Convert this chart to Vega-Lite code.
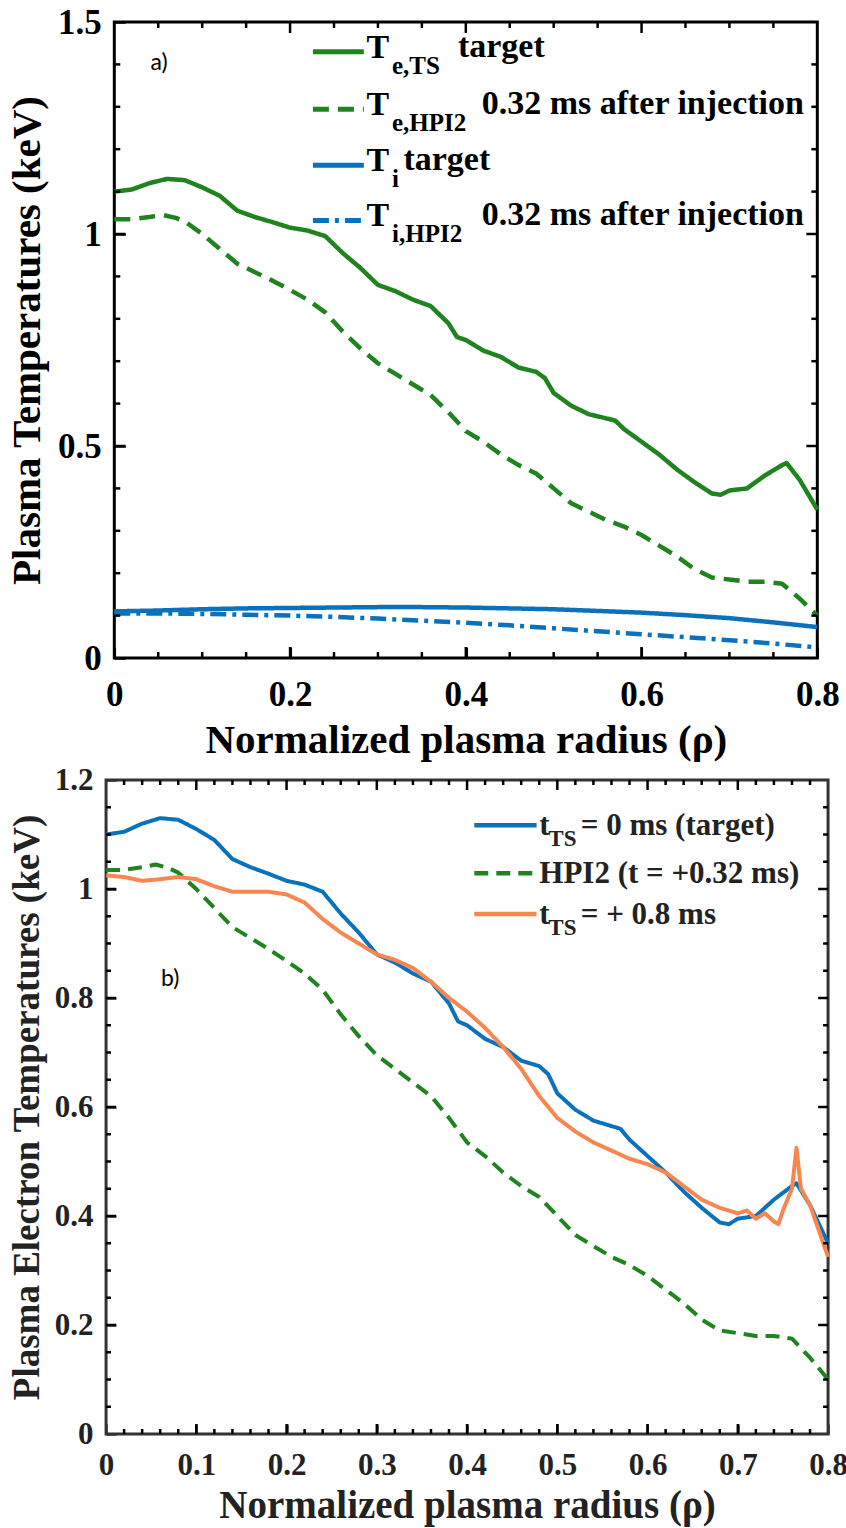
{
  "$schema": "https://vega.github.io/schema/vega-lite/v6.json",
  "background": "white",
  "padding": {"left": 5, "top": 3, "right": 2, "bottom": 0},
  "columns": 1,
  "center": true,
  "spacing": 0,
  "resolve": {"scale": {"color": "independent", "strokeDash": "independent"}},
  "datasets": {
    "A": [
      {"series": "Te target", "rho": 0, "T": 1.1}, {"series": "Te target", "rho": 0.02, "T": 1.105}, {"series": "Te target", "rho": 0.04, "T": 1.12}, {"series": "Te target", "rho": 0.06, "T": 1.13}, {"series": "Te target", "rho": 0.08, "T": 1.127}, {"series": "Te target", "rho": 0.1, "T": 1.11}, {"series": "Te target", "rho": 0.12, "T": 1.09}, {"series": "Te target", "rho": 0.14, "T": 1.055}, {"series": "Te target", "rho": 0.16, "T": 1.04}, {"series": "Te target", "rho": 0.18, "T": 1.028}, {"series": "Te target", "rho": 0.2, "T": 1.015}, {"series": "Te target", "rho": 0.22, "T": 1.008}, {"series": "Te target", "rho": 0.24, "T": 0.995}, {"series": "Te target", "rho": 0.26, "T": 0.955}, {"series": "Te target", "rho": 0.28, "T": 0.92}, {"series": "Te target", "rho": 0.3, "T": 0.88}, {"series": "Te target", "rho": 0.32, "T": 0.865}, {"series": "Te target", "rho": 0.34, "T": 0.845}, {"series": "Te target", "rho": 0.36, "T": 0.83}, {"series": "Te target", "rho": 0.38, "T": 0.79}, {"series": "Te target", "rho": 0.39, "T": 0.757}, {"series": "Te target", "rho": 0.4, "T": 0.75}, {"series": "Te target", "rho": 0.42, "T": 0.725}, {"series": "Te target", "rho": 0.44, "T": 0.71}, {"series": "Te target", "rho": 0.46, "T": 0.685}, {"series": "Te target", "rho": 0.48, "T": 0.675}, {"series": "Te target", "rho": 0.49, "T": 0.66}, {"series": "Te target", "rho": 0.5, "T": 0.625}, {"series": "Te target", "rho": 0.52, "T": 0.595}, {"series": "Te target", "rho": 0.54, "T": 0.575}, {"series": "Te target", "rho": 0.56, "T": 0.565}, {"series": "Te target", "rho": 0.57, "T": 0.56}, {"series": "Te target", "rho": 0.58, "T": 0.54}, {"series": "Te target", "rho": 0.6, "T": 0.51}, {"series": "Te target", "rho": 0.62, "T": 0.48}, {"series": "Te target", "rho": 0.64, "T": 0.445}, {"series": "Te target", "rho": 0.66, "T": 0.415}, {"series": "Te target", "rho": 0.68, "T": 0.388}, {"series": "Te target", "rho": 0.69, "T": 0.385}, {"series": "Te target", "rho": 0.7, "T": 0.395}, {"series": "Te target", "rho": 0.72, "T": 0.4}, {"series": "Te target", "rho": 0.74, "T": 0.43}, {"series": "Te target", "rho": 0.76, "T": 0.455}, {"series": "Te target", "rho": 0.765, "T": 0.46}, {"series": "Te target", "rho": 0.78, "T": 0.42}, {"series": "Te target", "rho": 0.8, "T": 0.35},
      {"series": "Te HPI2", "rho": 0, "T": 1.035}, {"series": "Te HPI2", "rho": 0.02, "T": 1.035}, {"series": "Te HPI2", "rho": 0.04, "T": 1.04}, {"series": "Te HPI2", "rho": 0.055, "T": 1.045}, {"series": "Te HPI2", "rho": 0.07, "T": 1.038}, {"series": "Te HPI2", "rho": 0.08, "T": 1.03}, {"series": "Te HPI2", "rho": 0.1, "T": 1.0}, {"series": "Te HPI2", "rho": 0.12, "T": 0.965}, {"series": "Te HPI2", "rho": 0.14, "T": 0.93}, {"series": "Te HPI2", "rho": 0.16, "T": 0.91}, {"series": "Te HPI2", "rho": 0.18, "T": 0.89}, {"series": "Te HPI2", "rho": 0.2, "T": 0.868}, {"series": "Te HPI2", "rho": 0.22, "T": 0.845}, {"series": "Te HPI2", "rho": 0.24, "T": 0.815}, {"series": "Te HPI2", "rho": 0.26, "T": 0.77}, {"series": "Te HPI2", "rho": 0.28, "T": 0.73}, {"series": "Te HPI2", "rho": 0.3, "T": 0.695}, {"series": "Te HPI2", "rho": 0.32, "T": 0.67}, {"series": "Te HPI2", "rho": 0.34, "T": 0.645}, {"series": "Te HPI2", "rho": 0.36, "T": 0.62}, {"series": "Te HPI2", "rho": 0.38, "T": 0.58}, {"series": "Te HPI2", "rho": 0.4, "T": 0.535}, {"series": "Te HPI2", "rho": 0.42, "T": 0.51}, {"series": "Te HPI2", "rho": 0.44, "T": 0.48}, {"series": "Te HPI2", "rho": 0.46, "T": 0.455}, {"series": "Te HPI2", "rho": 0.48, "T": 0.435}, {"series": "Te HPI2", "rho": 0.5, "T": 0.4}, {"series": "Te HPI2", "rho": 0.52, "T": 0.365}, {"series": "Te HPI2", "rho": 0.54, "T": 0.345}, {"series": "Te HPI2", "rho": 0.56, "T": 0.325}, {"series": "Te HPI2", "rho": 0.58, "T": 0.31}, {"series": "Te HPI2", "rho": 0.6, "T": 0.29}, {"series": "Te HPI2", "rho": 0.62, "T": 0.265}, {"series": "Te HPI2", "rho": 0.64, "T": 0.24}, {"series": "Te HPI2", "rho": 0.66, "T": 0.21}, {"series": "Te HPI2", "rho": 0.68, "T": 0.19}, {"series": "Te HPI2", "rho": 0.7, "T": 0.185}, {"series": "Te HPI2", "rho": 0.72, "T": 0.18}, {"series": "Te HPI2", "rho": 0.74, "T": 0.18}, {"series": "Te HPI2", "rho": 0.76, "T": 0.175}, {"series": "Te HPI2", "rho": 0.78, "T": 0.14}, {"series": "Te HPI2", "rho": 0.8, "T": 0.1},
      {"series": "Ti target", "rho": 0, "T": 0.11}, {"series": "Ti target", "rho": 0.05, "T": 0.112}, {"series": "Ti target", "rho": 0.1, "T": 0.115}, {"series": "Ti target", "rho": 0.15, "T": 0.117}, {"series": "Ti target", "rho": 0.2, "T": 0.118}, {"series": "Ti target", "rho": 0.25, "T": 0.119}, {"series": "Ti target", "rho": 0.3, "T": 0.12}, {"series": "Ti target", "rho": 0.35, "T": 0.12}, {"series": "Ti target", "rho": 0.4, "T": 0.119}, {"series": "Ti target", "rho": 0.45, "T": 0.117}, {"series": "Ti target", "rho": 0.5, "T": 0.115}, {"series": "Ti target", "rho": 0.55, "T": 0.111}, {"series": "Ti target", "rho": 0.6, "T": 0.107}, {"series": "Ti target", "rho": 0.65, "T": 0.101}, {"series": "Ti target", "rho": 0.7, "T": 0.094}, {"series": "Ti target", "rho": 0.75, "T": 0.084}, {"series": "Ti target", "rho": 0.8, "T": 0.073},
      {"series": "Ti HPI2", "rho": 0, "T": 0.105}, {"series": "Ti HPI2", "rho": 0.05, "T": 0.105}, {"series": "Ti HPI2", "rho": 0.1, "T": 0.104}, {"series": "Ti HPI2", "rho": 0.15, "T": 0.102}, {"series": "Ti HPI2", "rho": 0.2, "T": 0.1}, {"series": "Ti HPI2", "rho": 0.25, "T": 0.097}, {"series": "Ti HPI2", "rho": 0.3, "T": 0.093}, {"series": "Ti HPI2", "rho": 0.35, "T": 0.088}, {"series": "Ti HPI2", "rho": 0.4, "T": 0.083}, {"series": "Ti HPI2", "rho": 0.45, "T": 0.077}, {"series": "Ti HPI2", "rho": 0.5, "T": 0.07}, {"series": "Ti HPI2", "rho": 0.55, "T": 0.063}, {"series": "Ti HPI2", "rho": 0.6, "T": 0.056}, {"series": "Ti HPI2", "rho": 0.65, "T": 0.049}, {"series": "Ti HPI2", "rho": 0.7, "T": 0.042}, {"series": "Ti HPI2", "rho": 0.75, "T": 0.034}, {"series": "Ti HPI2", "rho": 0.8, "T": 0.025}
    ],
    "B": [
      {"series": "tTS 0", "rho": 0, "T": 1.1}, {"series": "tTS 0", "rho": 0.02, "T": 1.105}, {"series": "tTS 0", "rho": 0.04, "T": 1.12}, {"series": "tTS 0", "rho": 0.06, "T": 1.13}, {"series": "tTS 0", "rho": 0.08, "T": 1.127}, {"series": "tTS 0", "rho": 0.1, "T": 1.11}, {"series": "tTS 0", "rho": 0.12, "T": 1.09}, {"series": "tTS 0", "rho": 0.14, "T": 1.055}, {"series": "tTS 0", "rho": 0.16, "T": 1.04}, {"series": "tTS 0", "rho": 0.18, "T": 1.028}, {"series": "tTS 0", "rho": 0.2, "T": 1.015}, {"series": "tTS 0", "rho": 0.22, "T": 1.008}, {"series": "tTS 0", "rho": 0.24, "T": 0.995}, {"series": "tTS 0", "rho": 0.26, "T": 0.955}, {"series": "tTS 0", "rho": 0.28, "T": 0.92}, {"series": "tTS 0", "rho": 0.3, "T": 0.88}, {"series": "tTS 0", "rho": 0.32, "T": 0.865}, {"series": "tTS 0", "rho": 0.34, "T": 0.845}, {"series": "tTS 0", "rho": 0.36, "T": 0.83}, {"series": "tTS 0", "rho": 0.38, "T": 0.79}, {"series": "tTS 0", "rho": 0.39, "T": 0.757}, {"series": "tTS 0", "rho": 0.4, "T": 0.75}, {"series": "tTS 0", "rho": 0.42, "T": 0.725}, {"series": "tTS 0", "rho": 0.44, "T": 0.71}, {"series": "tTS 0", "rho": 0.46, "T": 0.685}, {"series": "tTS 0", "rho": 0.48, "T": 0.675}, {"series": "tTS 0", "rho": 0.49, "T": 0.66}, {"series": "tTS 0", "rho": 0.5, "T": 0.625}, {"series": "tTS 0", "rho": 0.52, "T": 0.595}, {"series": "tTS 0", "rho": 0.54, "T": 0.575}, {"series": "tTS 0", "rho": 0.56, "T": 0.565}, {"series": "tTS 0", "rho": 0.57, "T": 0.56}, {"series": "tTS 0", "rho": 0.58, "T": 0.54}, {"series": "tTS 0", "rho": 0.6, "T": 0.51}, {"series": "tTS 0", "rho": 0.62, "T": 0.48}, {"series": "tTS 0", "rho": 0.64, "T": 0.445}, {"series": "tTS 0", "rho": 0.66, "T": 0.415}, {"series": "tTS 0", "rho": 0.68, "T": 0.388}, {"series": "tTS 0", "rho": 0.69, "T": 0.385}, {"series": "tTS 0", "rho": 0.7, "T": 0.395}, {"series": "tTS 0", "rho": 0.72, "T": 0.4}, {"series": "tTS 0", "rho": 0.74, "T": 0.43}, {"series": "tTS 0", "rho": 0.76, "T": 0.455}, {"series": "tTS 0", "rho": 0.765, "T": 0.46}, {"series": "tTS 0", "rho": 0.78, "T": 0.42}, {"series": "tTS 0", "rho": 0.8, "T": 0.35},
      {"series": "HPI2", "rho": 0, "T": 1.035}, {"series": "HPI2", "rho": 0.02, "T": 1.035}, {"series": "HPI2", "rho": 0.04, "T": 1.04}, {"series": "HPI2", "rho": 0.055, "T": 1.045}, {"series": "HPI2", "rho": 0.07, "T": 1.038}, {"series": "HPI2", "rho": 0.08, "T": 1.03}, {"series": "HPI2", "rho": 0.1, "T": 1.0}, {"series": "HPI2", "rho": 0.12, "T": 0.965}, {"series": "HPI2", "rho": 0.14, "T": 0.93}, {"series": "HPI2", "rho": 0.16, "T": 0.91}, {"series": "HPI2", "rho": 0.18, "T": 0.89}, {"series": "HPI2", "rho": 0.2, "T": 0.868}, {"series": "HPI2", "rho": 0.22, "T": 0.845}, {"series": "HPI2", "rho": 0.24, "T": 0.815}, {"series": "HPI2", "rho": 0.26, "T": 0.77}, {"series": "HPI2", "rho": 0.28, "T": 0.73}, {"series": "HPI2", "rho": 0.3, "T": 0.695}, {"series": "HPI2", "rho": 0.32, "T": 0.67}, {"series": "HPI2", "rho": 0.34, "T": 0.645}, {"series": "HPI2", "rho": 0.36, "T": 0.62}, {"series": "HPI2", "rho": 0.38, "T": 0.58}, {"series": "HPI2", "rho": 0.4, "T": 0.535}, {"series": "HPI2", "rho": 0.42, "T": 0.51}, {"series": "HPI2", "rho": 0.44, "T": 0.48}, {"series": "HPI2", "rho": 0.46, "T": 0.455}, {"series": "HPI2", "rho": 0.48, "T": 0.435}, {"series": "HPI2", "rho": 0.5, "T": 0.4}, {"series": "HPI2", "rho": 0.52, "T": 0.365}, {"series": "HPI2", "rho": 0.54, "T": 0.345}, {"series": "HPI2", "rho": 0.56, "T": 0.325}, {"series": "HPI2", "rho": 0.58, "T": 0.31}, {"series": "HPI2", "rho": 0.6, "T": 0.29}, {"series": "HPI2", "rho": 0.62, "T": 0.265}, {"series": "HPI2", "rho": 0.64, "T": 0.24}, {"series": "HPI2", "rho": 0.66, "T": 0.21}, {"series": "HPI2", "rho": 0.68, "T": 0.19}, {"series": "HPI2", "rho": 0.7, "T": 0.185}, {"series": "HPI2", "rho": 0.72, "T": 0.18}, {"series": "HPI2", "rho": 0.74, "T": 0.18}, {"series": "HPI2", "rho": 0.76, "T": 0.175}, {"series": "HPI2", "rho": 0.78, "T": 0.14}, {"series": "HPI2", "rho": 0.8, "T": 0.1},
      {"series": "tTS 0.8", "rho": 0, "T": 1.025}, {"series": "tTS 0.8", "rho": 0.02, "T": 1.022}, {"series": "tTS 0.8", "rho": 0.04, "T": 1.015}, {"series": "tTS 0.8", "rho": 0.06, "T": 1.018}, {"series": "tTS 0.8", "rho": 0.08, "T": 1.022}, {"series": "tTS 0.8", "rho": 0.1, "T": 1.018}, {"series": "tTS 0.8", "rho": 0.12, "T": 1.005}, {"series": "tTS 0.8", "rho": 0.14, "T": 0.995}, {"series": "tTS 0.8", "rho": 0.16, "T": 0.995}, {"series": "tTS 0.8", "rho": 0.18, "T": 0.995}, {"series": "tTS 0.8", "rho": 0.2, "T": 0.99}, {"series": "tTS 0.8", "rho": 0.22, "T": 0.975}, {"series": "tTS 0.8", "rho": 0.24, "T": 0.945}, {"series": "tTS 0.8", "rho": 0.26, "T": 0.92}, {"series": "tTS 0.8", "rho": 0.28, "T": 0.9}, {"series": "tTS 0.8", "rho": 0.3, "T": 0.88}, {"series": "tTS 0.8", "rho": 0.32, "T": 0.87}, {"series": "tTS 0.8", "rho": 0.34, "T": 0.855}, {"series": "tTS 0.8", "rho": 0.36, "T": 0.83}, {"series": "tTS 0.8", "rho": 0.38, "T": 0.8}, {"series": "tTS 0.8", "rho": 0.4, "T": 0.775}, {"series": "tTS 0.8", "rho": 0.42, "T": 0.745}, {"series": "tTS 0.8", "rho": 0.44, "T": 0.71}, {"series": "tTS 0.8", "rho": 0.46, "T": 0.67}, {"series": "tTS 0.8", "rho": 0.48, "T": 0.62}, {"series": "tTS 0.8", "rho": 0.5, "T": 0.58}, {"series": "tTS 0.8", "rho": 0.52, "T": 0.555}, {"series": "tTS 0.8", "rho": 0.54, "T": 0.535}, {"series": "tTS 0.8", "rho": 0.56, "T": 0.52}, {"series": "tTS 0.8", "rho": 0.58, "T": 0.505}, {"series": "tTS 0.8", "rho": 0.6, "T": 0.495}, {"series": "tTS 0.8", "rho": 0.62, "T": 0.48}, {"series": "tTS 0.8", "rho": 0.64, "T": 0.455}, {"series": "tTS 0.8", "rho": 0.66, "T": 0.43}, {"series": "tTS 0.8", "rho": 0.68, "T": 0.415}, {"series": "tTS 0.8", "rho": 0.7, "T": 0.405}, {"series": "tTS 0.8", "rho": 0.71, "T": 0.41}, {"series": "tTS 0.8", "rho": 0.72, "T": 0.395}, {"series": "tTS 0.8", "rho": 0.73, "T": 0.405}, {"series": "tTS 0.8", "rho": 0.74, "T": 0.39}, {"series": "tTS 0.8", "rho": 0.745, "T": 0.385}, {"series": "tTS 0.8", "rho": 0.75, "T": 0.41}, {"series": "tTS 0.8", "rho": 0.76, "T": 0.45}, {"series": "tTS 0.8", "rho": 0.765, "T": 0.525}, {"series": "tTS 0.8", "rho": 0.77, "T": 0.45}, {"series": "tTS 0.8", "rho": 0.78, "T": 0.42}, {"series": "tTS 0.8", "rho": 0.8, "T": 0.325}
    ]
  },
  "concat": [
    {
      "width": 703,
      "height": 636,
      "view": {"stroke": "black", "strokeWidth": 3},
      "data": {"values": [{}]},
      "layer": [
        {
          "data": {"name": "A"},
          "mark": {"type": "line", "strokeWidth": 4.5, "strokeCap": "butt", "strokeJoin": "round"},
          "encoding": {
            "x": {"field": "rho", "type": "quantitative", "scale": {"domain": [0, 0.8], "nice": false, "zero": false},
              "axis": {"orient": "bottom", "values": [0, 0.2, 0.4, 0.6, 0.8], "format": "~g", "offset": -11, "tickSize": 11, "tickWidth": 2.5, "labelPadding": 19, "labelFontSize": 35, "labelFlush": false, "title": "Normalized plasma radius (ρ)", "titleFontSize": 41, "titlePadding": 8}},
            "y": {"field": "T", "type": "quantitative", "scale": {"domain": [0, 1.5], "nice": false, "zero": false},
              "axis": {"orient": "left", "values": [0, 0.5, 1, 1.5], "format": "~g", "offset": -11, "tickSize": 11, "tickWidth": 2.5, "labelPadding": 13, "labelFontSize": 35, "labelFlush": false, "title": "Plasma Temperatures (keV)", "titleFontSize": 41, "titlePadding": 9}},
            "color": {"field": "series", "type": "nominal", "legend": null,
              "scale": {"domain": ["Te target", "Te HPI2", "Ti target", "Ti HPI2"], "range": ["#1f841f", "#1f841f", "#0a72bd", "#0a72bd"]}},
            "strokeDash": {"field": "series", "type": "nominal", "legend": null,
              "scale": {"domain": ["Te target", "Te HPI2", "Ti target", "Ti HPI2"], "range": [[1, 0], [16, 9], [1, 0], [16, 6, 4, 6]]}}
          }
        },
        {"mark": "rule", "encoding": {"x": {"datum": 0.2}, "y": {"datum": 0}, "y2": {"datum": 0.026}}},
        {"mark": "rule", "encoding": {"x": {"datum": 0.4}, "y": {"datum": 0}, "y2": {"datum": 0.026}}},
        {"mark": "rule", "encoding": {"x": {"datum": 0.6}, "y": {"datum": 0}, "y2": {"datum": 0.026}}},
        {"mark": "rule", "encoding": {"x": {"datum": 0.2}, "y": {"datum": 1.5}, "y2": {"datum": 1.474}}},
        {"mark": "rule", "encoding": {"x": {"datum": 0.4}, "y": {"datum": 1.5}, "y2": {"datum": 1.474}}},
        {"mark": "rule", "encoding": {"x": {"datum": 0.6}, "y": {"datum": 1.5}, "y2": {"datum": 1.474}}},
        {"mark": "rule", "encoding": {"x": {"datum": 0.05}, "y": {"datum": 0}, "y2": {"datum": 0.014}}},
        {"mark": "rule", "encoding": {"x": {"datum": 0.1}, "y": {"datum": 0}, "y2": {"datum": 0.014}}},
        {"mark": "rule", "encoding": {"x": {"datum": 0.15}, "y": {"datum": 0}, "y2": {"datum": 0.014}}},
        {"mark": "rule", "encoding": {"x": {"datum": 0.25}, "y": {"datum": 0}, "y2": {"datum": 0.014}}},
        {"mark": "rule", "encoding": {"x": {"datum": 0.3}, "y": {"datum": 0}, "y2": {"datum": 0.014}}},
        {"mark": "rule", "encoding": {"x": {"datum": 0.35}, "y": {"datum": 0}, "y2": {"datum": 0.014}}},
        {"mark": "rule", "encoding": {"x": {"datum": 0.45}, "y": {"datum": 0}, "y2": {"datum": 0.014}}},
        {"mark": "rule", "encoding": {"x": {"datum": 0.5}, "y": {"datum": 0}, "y2": {"datum": 0.014}}},
        {"mark": "rule", "encoding": {"x": {"datum": 0.55}, "y": {"datum": 0}, "y2": {"datum": 0.014}}},
        {"mark": "rule", "encoding": {"x": {"datum": 0.65}, "y": {"datum": 0}, "y2": {"datum": 0.014}}},
        {"mark": "rule", "encoding": {"x": {"datum": 0.7}, "y": {"datum": 0}, "y2": {"datum": 0.014}}},
        {"mark": "rule", "encoding": {"x": {"datum": 0.75}, "y": {"datum": 0}, "y2": {"datum": 0.014}}},
        {"mark": "rule", "encoding": {"x": {"datum": 0.05}, "y": {"datum": 1.5}, "y2": {"datum": 1.486}}},
        {"mark": "rule", "encoding": {"x": {"datum": 0.1}, "y": {"datum": 1.5}, "y2": {"datum": 1.486}}},
        {"mark": "rule", "encoding": {"x": {"datum": 0.15}, "y": {"datum": 1.5}, "y2": {"datum": 1.486}}},
        {"mark": "rule", "encoding": {"x": {"datum": 0.25}, "y": {"datum": 1.5}, "y2": {"datum": 1.486}}},
        {"mark": "rule", "encoding": {"x": {"datum": 0.3}, "y": {"datum": 1.5}, "y2": {"datum": 1.486}}},
        {"mark": "rule", "encoding": {"x": {"datum": 0.35}, "y": {"datum": 1.5}, "y2": {"datum": 1.486}}},
        {"mark": "rule", "encoding": {"x": {"datum": 0.45}, "y": {"datum": 1.5}, "y2": {"datum": 1.486}}},
        {"mark": "rule", "encoding": {"x": {"datum": 0.5}, "y": {"datum": 1.5}, "y2": {"datum": 1.486}}},
        {"mark": "rule", "encoding": {"x": {"datum": 0.55}, "y": {"datum": 1.5}, "y2": {"datum": 1.486}}},
        {"mark": "rule", "encoding": {"x": {"datum": 0.65}, "y": {"datum": 1.5}, "y2": {"datum": 1.486}}},
        {"mark": "rule", "encoding": {"x": {"datum": 0.7}, "y": {"datum": 1.5}, "y2": {"datum": 1.486}}},
        {"mark": "rule", "encoding": {"x": {"datum": 0.75}, "y": {"datum": 1.5}, "y2": {"datum": 1.486}}},
        {"mark": "rule", "encoding": {"y": {"datum": 0.5}, "x": {"datum": 0}, "x2": {"datum": 0.0125}}},
        {"mark": "rule", "encoding": {"y": {"datum": 1}, "x": {"datum": 0}, "x2": {"datum": 0.0125}}},
        {"mark": "rule", "encoding": {"y": {"datum": 0.5}, "x": {"datum": 0.8}, "x2": {"datum": 0.7875}}},
        {"mark": "rule", "encoding": {"y": {"datum": 1}, "x": {"datum": 0.8}, "x2": {"datum": 0.7875}}},
        {"mark": "rule", "encoding": {"y": {"datum": 0.1}, "x": {"datum": 0}, "x2": {"datum": 0.0068}}},
        {"mark": "rule", "encoding": {"y": {"datum": 0.2}, "x": {"datum": 0}, "x2": {"datum": 0.0068}}},
        {"mark": "rule", "encoding": {"y": {"datum": 0.3}, "x": {"datum": 0}, "x2": {"datum": 0.0068}}},
        {"mark": "rule", "encoding": {"y": {"datum": 0.4}, "x": {"datum": 0}, "x2": {"datum": 0.0068}}},
        {"mark": "rule", "encoding": {"y": {"datum": 0.6}, "x": {"datum": 0}, "x2": {"datum": 0.0068}}},
        {"mark": "rule", "encoding": {"y": {"datum": 0.7}, "x": {"datum": 0}, "x2": {"datum": 0.0068}}},
        {"mark": "rule", "encoding": {"y": {"datum": 0.8}, "x": {"datum": 0}, "x2": {"datum": 0.0068}}},
        {"mark": "rule", "encoding": {"y": {"datum": 0.9}, "x": {"datum": 0}, "x2": {"datum": 0.0068}}},
        {"mark": "rule", "encoding": {"y": {"datum": 1.1}, "x": {"datum": 0}, "x2": {"datum": 0.0068}}},
        {"mark": "rule", "encoding": {"y": {"datum": 1.2}, "x": {"datum": 0}, "x2": {"datum": 0.0068}}},
        {"mark": "rule", "encoding": {"y": {"datum": 1.3}, "x": {"datum": 0}, "x2": {"datum": 0.0068}}},
        {"mark": "rule", "encoding": {"y": {"datum": 1.4}, "x": {"datum": 0}, "x2": {"datum": 0.0068}}},
        {"mark": "rule", "encoding": {"y": {"datum": 0.1}, "x": {"datum": 0.8}, "x2": {"datum": 0.7932}}},
        {"mark": "rule", "encoding": {"y": {"datum": 0.2}, "x": {"datum": 0.8}, "x2": {"datum": 0.7932}}},
        {"mark": "rule", "encoding": {"y": {"datum": 0.3}, "x": {"datum": 0.8}, "x2": {"datum": 0.7932}}},
        {"mark": "rule", "encoding": {"y": {"datum": 0.4}, "x": {"datum": 0.8}, "x2": {"datum": 0.7932}}},
        {"mark": "rule", "encoding": {"y": {"datum": 0.6}, "x": {"datum": 0.8}, "x2": {"datum": 0.7932}}},
        {"mark": "rule", "encoding": {"y": {"datum": 0.7}, "x": {"datum": 0.8}, "x2": {"datum": 0.7932}}},
        {"mark": "rule", "encoding": {"y": {"datum": 0.8}, "x": {"datum": 0.8}, "x2": {"datum": 0.7932}}},
        {"mark": "rule", "encoding": {"y": {"datum": 0.9}, "x": {"datum": 0.8}, "x2": {"datum": 0.7932}}},
        {"mark": "rule", "encoding": {"y": {"datum": 1.1}, "x": {"datum": 0.8}, "x2": {"datum": 0.7932}}},
        {"mark": "rule", "encoding": {"y": {"datum": 1.2}, "x": {"datum": 0.8}, "x2": {"datum": 0.7932}}},
        {"mark": "rule", "encoding": {"y": {"datum": 1.3}, "x": {"datum": 0.8}, "x2": {"datum": 0.7932}}},
        {"mark": "rule", "encoding": {"y": {"datum": 1.4}, "x": {"datum": 0.8}, "x2": {"datum": 0.7932}}},
        {"mark": {"type": "text", "text": "a)", "font": "Lato", "fontWeight": "normal", "fontSize": 23, "align": "center", "baseline": "middle"},
          "encoding": {"x": {"datum": 0.051, "type": "quantitative"}, "y": {"datum": 1.403, "type": "quantitative"}}},

        {"mark": {"type": "rule", "color": "#1f841f", "strokeWidth": 5},
          "encoding": {"x": {"datum": 0.226, "type": "quantitative"}, "x2": {"datum": 0.284}, "y": {"datum": 1.43, "type": "quantitative"}}},
        {"mark": {"type": "text", "text": "T", "font": "Liberation Serif", "fontSize": 34, "align": "left", "baseline": "alphabetic", "dy": 6},
          "encoding": {"x": {"datum": 0.287, "type": "quantitative"}, "y": {"datum": 1.43, "type": "quantitative"}}},
        {"mark": {"type": "text", "text": "e,TS", "font": "Liberation Serif", "fontSize": 25, "align": "left", "baseline": "alphabetic", "dy": 22},
          "encoding": {"x": {"datum": 0.316, "type": "quantitative"}, "y": {"datum": 1.43, "type": "quantitative"}}},
        {"mark": {"type": "text", "text": "target", "font": "Liberation Serif", "fontSize": 34, "align": "left", "baseline": "alphabetic", "dy": 5},
          "encoding": {"x": {"datum": 0.391, "type": "quantitative"}, "y": {"datum": 1.43, "type": "quantitative"}}},

        {"mark": {"type": "rule", "color": "#1f841f", "strokeWidth": 5, "strokeDash": [16, 9]},
          "encoding": {"x": {"datum": 0.226, "type": "quantitative"}, "x2": {"datum": 0.284}, "y": {"datum": 1.294, "type": "quantitative"}}},
        {"mark": {"type": "text", "text": "T", "font": "Liberation Serif", "fontSize": 34, "align": "left", "baseline": "alphabetic", "dy": 6},
          "encoding": {"x": {"datum": 0.287, "type": "quantitative"}, "y": {"datum": 1.294, "type": "quantitative"}}},
        {"mark": {"type": "text", "text": "e,HPI2", "font": "Liberation Serif", "fontSize": 25, "align": "left", "baseline": "alphabetic", "dy": 22},
          "encoding": {"x": {"datum": 0.316, "type": "quantitative"}, "y": {"datum": 1.294, "type": "quantitative"}}},
        {"mark": {"type": "text", "text": "0.32 ms after injection", "font": "Liberation Serif", "fontSize": 34, "align": "left", "baseline": "alphabetic", "dy": 5},
          "encoding": {"x": {"datum": 0.418, "type": "quantitative"}, "y": {"datum": 1.294, "type": "quantitative"}}},

        {"mark": {"type": "rule", "color": "#0a72bd", "strokeWidth": 5},
          "encoding": {"x": {"datum": 0.226, "type": "quantitative"}, "x2": {"datum": 0.284}, "y": {"datum": 1.162, "type": "quantitative"}}},
        {"mark": {"type": "text", "text": "T", "font": "Liberation Serif", "fontSize": 34, "align": "left", "baseline": "alphabetic", "dy": 6},
          "encoding": {"x": {"datum": 0.287, "type": "quantitative"}, "y": {"datum": 1.162, "type": "quantitative"}}},
        {"mark": {"type": "text", "text": "i", "font": "Liberation Serif", "fontSize": 25, "align": "left", "baseline": "alphabetic", "dy": 22},
          "encoding": {"x": {"datum": 0.316, "type": "quantitative"}, "y": {"datum": 1.162, "type": "quantitative"}}},
        {"mark": {"type": "text", "text": "target", "font": "Liberation Serif", "fontSize": 34, "align": "left", "baseline": "alphabetic", "dy": 5},
          "encoding": {"x": {"datum": 0.329, "type": "quantitative"}, "y": {"datum": 1.162, "type": "quantitative"}}},

        {"mark": {"type": "rule", "color": "#0a72bd", "strokeWidth": 5, "strokeDash": [16, 6, 4, 6]},
          "encoding": {"x": {"datum": 0.226, "type": "quantitative"}, "x2": {"datum": 0.284}, "y": {"datum": 1.032, "type": "quantitative"}}},
        {"mark": {"type": "text", "text": "T", "font": "Liberation Serif", "fontSize": 34, "align": "left", "baseline": "alphabetic", "dy": 6},
          "encoding": {"x": {"datum": 0.287, "type": "quantitative"}, "y": {"datum": 1.032, "type": "quantitative"}}},
        {"mark": {"type": "text", "text": "i,HPI2", "font": "Liberation Serif", "fontSize": 25, "align": "left", "baseline": "alphabetic", "dy": 22},
          "encoding": {"x": {"datum": 0.316, "type": "quantitative"}, "y": {"datum": 1.032, "type": "quantitative"}}},
        {"mark": {"type": "text", "text": "0.32 ms after injection", "font": "Liberation Serif", "fontSize": 34, "align": "left", "baseline": "alphabetic", "dy": 5},
          "encoding": {"x": {"datum": 0.418, "type": "quantitative"}, "y": {"datum": 1.032, "type": "quantitative"}}}
      ]
    },
    {
      "width": 722,
      "height": 654,
      "view": {"stroke": "#333333", "strokeWidth": 3},
      "data": {"values": [{}]},
      "layer": [
        {
          "data": {"name": "B"},
          "mark": {"type": "line", "strokeWidth": 4, "strokeCap": "butt", "strokeJoin": "round"},
          "encoding": {
            "x": {"field": "rho", "type": "quantitative", "scale": {"domain": [0, 0.8], "nice": false, "zero": false},
              "axis": {"orient": "bottom", "values": [0, 0.1, 0.2, 0.3, 0.4, 0.5, 0.6, 0.7, 0.8], "format": "~g", "offset": -10, "tickSize": 10, "tickWidth": 2.5, "tickColor": "#333333", "labelColor": "#222222", "labelPadding": 16, "labelFontSize": 31, "labelFlush": false, "title": "Normalized plasma radius (ρ)", "titleFontSize": 39, "titleColor": "#222222", "titlePadding": 6}},
            "y": {"field": "T", "type": "quantitative", "scale": {"domain": [0, 1.2], "nice": false, "zero": false},
              "axis": {"orient": "left", "values": [0, 0.2, 0.4, 0.6, 0.8, 1, 1.2], "format": "~g", "offset": -10, "tickSize": 10, "tickWidth": 2.5, "tickColor": "#333333", "labelColor": "#222222", "labelPadding": 13, "labelFontSize": 31, "labelFlush": false, "title": "Plasma Electron Temperatures (keV)", "titleFontSize": 37, "titleColor": "#222222", "titlePadding": 8}},
            "color": {"field": "series", "type": "nominal", "legend": null,
              "scale": {"domain": ["tTS 0", "HPI2", "tTS 0.8"], "range": ["#0a72bd", "#1f841f", "#f7874f"]}},
            "strokeDash": {"field": "series", "type": "nominal", "legend": null,
              "scale": {"domain": ["tTS 0", "HPI2", "tTS 0.8"], "range": [[1, 0], [14, 8], [1, 0]]}}
          }
        },
        {"mark": "rule", "encoding": {"x": {"datum": 0.1}, "y": {"datum": 0}, "y2": {"datum": 0.0183}}},
        {"mark": "rule", "encoding": {"x": {"datum": 0.2}, "y": {"datum": 0}, "y2": {"datum": 0.0183}}},
        {"mark": "rule", "encoding": {"x": {"datum": 0.3}, "y": {"datum": 0}, "y2": {"datum": 0.0183}}},
        {"mark": "rule", "encoding": {"x": {"datum": 0.4}, "y": {"datum": 0}, "y2": {"datum": 0.0183}}},
        {"mark": "rule", "encoding": {"x": {"datum": 0.5}, "y": {"datum": 0}, "y2": {"datum": 0.0183}}},
        {"mark": "rule", "encoding": {"x": {"datum": 0.6}, "y": {"datum": 0}, "y2": {"datum": 0.0183}}},
        {"mark": "rule", "encoding": {"x": {"datum": 0.7}, "y": {"datum": 0}, "y2": {"datum": 0.0183}}},
        {"mark": "rule", "encoding": {"x": {"datum": 0.1}, "y": {"datum": 1.2}, "y2": {"datum": 1.1817}}},
        {"mark": "rule", "encoding": {"x": {"datum": 0.2}, "y": {"datum": 1.2}, "y2": {"datum": 1.1817}}},
        {"mark": "rule", "encoding": {"x": {"datum": 0.3}, "y": {"datum": 1.2}, "y2": {"datum": 1.1817}}},
        {"mark": "rule", "encoding": {"x": {"datum": 0.4}, "y": {"datum": 1.2}, "y2": {"datum": 1.1817}}},
        {"mark": "rule", "encoding": {"x": {"datum": 0.5}, "y": {"datum": 1.2}, "y2": {"datum": 1.1817}}},
        {"mark": "rule", "encoding": {"x": {"datum": 0.6}, "y": {"datum": 1.2}, "y2": {"datum": 1.1817}}},
        {"mark": "rule", "encoding": {"x": {"datum": 0.7}, "y": {"datum": 1.2}, "y2": {"datum": 1.1817}}},
        {"mark": "rule", "encoding": {"x": {"datum": 0.02}, "y": {"datum": 0}, "y2": {"datum": 0.0092}}},
        {"mark": "rule", "encoding": {"x": {"datum": 0.04}, "y": {"datum": 0}, "y2": {"datum": 0.0092}}},
        {"mark": "rule", "encoding": {"x": {"datum": 0.06}, "y": {"datum": 0}, "y2": {"datum": 0.0092}}},
        {"mark": "rule", "encoding": {"x": {"datum": 0.08}, "y": {"datum": 0}, "y2": {"datum": 0.0092}}},
        {"mark": "rule", "encoding": {"x": {"datum": 0.12}, "y": {"datum": 0}, "y2": {"datum": 0.0092}}},
        {"mark": "rule", "encoding": {"x": {"datum": 0.14}, "y": {"datum": 0}, "y2": {"datum": 0.0092}}},
        {"mark": "rule", "encoding": {"x": {"datum": 0.16}, "y": {"datum": 0}, "y2": {"datum": 0.0092}}},
        {"mark": "rule", "encoding": {"x": {"datum": 0.18}, "y": {"datum": 0}, "y2": {"datum": 0.0092}}},
        {"mark": "rule", "encoding": {"x": {"datum": 0.22}, "y": {"datum": 0}, "y2": {"datum": 0.0092}}},
        {"mark": "rule", "encoding": {"x": {"datum": 0.24}, "y": {"datum": 0}, "y2": {"datum": 0.0092}}},
        {"mark": "rule", "encoding": {"x": {"datum": 0.26}, "y": {"datum": 0}, "y2": {"datum": 0.0092}}},
        {"mark": "rule", "encoding": {"x": {"datum": 0.28}, "y": {"datum": 0}, "y2": {"datum": 0.0092}}},
        {"mark": "rule", "encoding": {"x": {"datum": 0.32}, "y": {"datum": 0}, "y2": {"datum": 0.0092}}},
        {"mark": "rule", "encoding": {"x": {"datum": 0.34}, "y": {"datum": 0}, "y2": {"datum": 0.0092}}},
        {"mark": "rule", "encoding": {"x": {"datum": 0.36}, "y": {"datum": 0}, "y2": {"datum": 0.0092}}},
        {"mark": "rule", "encoding": {"x": {"datum": 0.38}, "y": {"datum": 0}, "y2": {"datum": 0.0092}}},
        {"mark": "rule", "encoding": {"x": {"datum": 0.42}, "y": {"datum": 0}, "y2": {"datum": 0.0092}}},
        {"mark": "rule", "encoding": {"x": {"datum": 0.44}, "y": {"datum": 0}, "y2": {"datum": 0.0092}}},
        {"mark": "rule", "encoding": {"x": {"datum": 0.46}, "y": {"datum": 0}, "y2": {"datum": 0.0092}}},
        {"mark": "rule", "encoding": {"x": {"datum": 0.48}, "y": {"datum": 0}, "y2": {"datum": 0.0092}}},
        {"mark": "rule", "encoding": {"x": {"datum": 0.52}, "y": {"datum": 0}, "y2": {"datum": 0.0092}}},
        {"mark": "rule", "encoding": {"x": {"datum": 0.54}, "y": {"datum": 0}, "y2": {"datum": 0.0092}}},
        {"mark": "rule", "encoding": {"x": {"datum": 0.56}, "y": {"datum": 0}, "y2": {"datum": 0.0092}}},
        {"mark": "rule", "encoding": {"x": {"datum": 0.58}, "y": {"datum": 0}, "y2": {"datum": 0.0092}}},
        {"mark": "rule", "encoding": {"x": {"datum": 0.62}, "y": {"datum": 0}, "y2": {"datum": 0.0092}}},
        {"mark": "rule", "encoding": {"x": {"datum": 0.64}, "y": {"datum": 0}, "y2": {"datum": 0.0092}}},
        {"mark": "rule", "encoding": {"x": {"datum": 0.66}, "y": {"datum": 0}, "y2": {"datum": 0.0092}}},
        {"mark": "rule", "encoding": {"x": {"datum": 0.68}, "y": {"datum": 0}, "y2": {"datum": 0.0092}}},
        {"mark": "rule", "encoding": {"x": {"datum": 0.72}, "y": {"datum": 0}, "y2": {"datum": 0.0092}}},
        {"mark": "rule", "encoding": {"x": {"datum": 0.74}, "y": {"datum": 0}, "y2": {"datum": 0.0092}}},
        {"mark": "rule", "encoding": {"x": {"datum": 0.76}, "y": {"datum": 0}, "y2": {"datum": 0.0092}}},
        {"mark": "rule", "encoding": {"x": {"datum": 0.78}, "y": {"datum": 0}, "y2": {"datum": 0.0092}}},
        {"mark": "rule", "encoding": {"x": {"datum": 0.02}, "y": {"datum": 1.2}, "y2": {"datum": 1.1908}}},
        {"mark": "rule", "encoding": {"x": {"datum": 0.04}, "y": {"datum": 1.2}, "y2": {"datum": 1.1908}}},
        {"mark": "rule", "encoding": {"x": {"datum": 0.06}, "y": {"datum": 1.2}, "y2": {"datum": 1.1908}}},
        {"mark": "rule", "encoding": {"x": {"datum": 0.08}, "y": {"datum": 1.2}, "y2": {"datum": 1.1908}}},
        {"mark": "rule", "encoding": {"x": {"datum": 0.12}, "y": {"datum": 1.2}, "y2": {"datum": 1.1908}}},
        {"mark": "rule", "encoding": {"x": {"datum": 0.14}, "y": {"datum": 1.2}, "y2": {"datum": 1.1908}}},
        {"mark": "rule", "encoding": {"x": {"datum": 0.16}, "y": {"datum": 1.2}, "y2": {"datum": 1.1908}}},
        {"mark": "rule", "encoding": {"x": {"datum": 0.18}, "y": {"datum": 1.2}, "y2": {"datum": 1.1908}}},
        {"mark": "rule", "encoding": {"x": {"datum": 0.22}, "y": {"datum": 1.2}, "y2": {"datum": 1.1908}}},
        {"mark": "rule", "encoding": {"x": {"datum": 0.24}, "y": {"datum": 1.2}, "y2": {"datum": 1.1908}}},
        {"mark": "rule", "encoding": {"x": {"datum": 0.26}, "y": {"datum": 1.2}, "y2": {"datum": 1.1908}}},
        {"mark": "rule", "encoding": {"x": {"datum": 0.28}, "y": {"datum": 1.2}, "y2": {"datum": 1.1908}}},
        {"mark": "rule", "encoding": {"x": {"datum": 0.32}, "y": {"datum": 1.2}, "y2": {"datum": 1.1908}}},
        {"mark": "rule", "encoding": {"x": {"datum": 0.34}, "y": {"datum": 1.2}, "y2": {"datum": 1.1908}}},
        {"mark": "rule", "encoding": {"x": {"datum": 0.36}, "y": {"datum": 1.2}, "y2": {"datum": 1.1908}}},
        {"mark": "rule", "encoding": {"x": {"datum": 0.38}, "y": {"datum": 1.2}, "y2": {"datum": 1.1908}}},
        {"mark": "rule", "encoding": {"x": {"datum": 0.42}, "y": {"datum": 1.2}, "y2": {"datum": 1.1908}}},
        {"mark": "rule", "encoding": {"x": {"datum": 0.44}, "y": {"datum": 1.2}, "y2": {"datum": 1.1908}}},
        {"mark": "rule", "encoding": {"x": {"datum": 0.46}, "y": {"datum": 1.2}, "y2": {"datum": 1.1908}}},
        {"mark": "rule", "encoding": {"x": {"datum": 0.48}, "y": {"datum": 1.2}, "y2": {"datum": 1.1908}}},
        {"mark": "rule", "encoding": {"x": {"datum": 0.52}, "y": {"datum": 1.2}, "y2": {"datum": 1.1908}}},
        {"mark": "rule", "encoding": {"x": {"datum": 0.54}, "y": {"datum": 1.2}, "y2": {"datum": 1.1908}}},
        {"mark": "rule", "encoding": {"x": {"datum": 0.56}, "y": {"datum": 1.2}, "y2": {"datum": 1.1908}}},
        {"mark": "rule", "encoding": {"x": {"datum": 0.58}, "y": {"datum": 1.2}, "y2": {"datum": 1.1908}}},
        {"mark": "rule", "encoding": {"x": {"datum": 0.62}, "y": {"datum": 1.2}, "y2": {"datum": 1.1908}}},
        {"mark": "rule", "encoding": {"x": {"datum": 0.64}, "y": {"datum": 1.2}, "y2": {"datum": 1.1908}}},
        {"mark": "rule", "encoding": {"x": {"datum": 0.66}, "y": {"datum": 1.2}, "y2": {"datum": 1.1908}}},
        {"mark": "rule", "encoding": {"x": {"datum": 0.68}, "y": {"datum": 1.2}, "y2": {"datum": 1.1908}}},
        {"mark": "rule", "encoding": {"x": {"datum": 0.72}, "y": {"datum": 1.2}, "y2": {"datum": 1.1908}}},
        {"mark": "rule", "encoding": {"x": {"datum": 0.74}, "y": {"datum": 1.2}, "y2": {"datum": 1.1908}}},
        {"mark": "rule", "encoding": {"x": {"datum": 0.76}, "y": {"datum": 1.2}, "y2": {"datum": 1.1908}}},
        {"mark": "rule", "encoding": {"x": {"datum": 0.78}, "y": {"datum": 1.2}, "y2": {"datum": 1.1908}}},
        {"mark": "rule", "encoding": {"y": {"datum": 0.2}, "x": {"datum": 0}, "x2": {"datum": 0.011}}},
        {"mark": "rule", "encoding": {"y": {"datum": 0.4}, "x": {"datum": 0}, "x2": {"datum": 0.011}}},
        {"mark": "rule", "encoding": {"y": {"datum": 0.6}, "x": {"datum": 0}, "x2": {"datum": 0.011}}},
        {"mark": "rule", "encoding": {"y": {"datum": 0.8}, "x": {"datum": 0}, "x2": {"datum": 0.011}}},
        {"mark": "rule", "encoding": {"y": {"datum": 1}, "x": {"datum": 0}, "x2": {"datum": 0.011}}},
        {"mark": "rule", "encoding": {"y": {"datum": 0.2}, "x": {"datum": 0.8}, "x2": {"datum": 0.789}}},
        {"mark": "rule", "encoding": {"y": {"datum": 0.4}, "x": {"datum": 0.8}, "x2": {"datum": 0.789}}},
        {"mark": "rule", "encoding": {"y": {"datum": 0.6}, "x": {"datum": 0.8}, "x2": {"datum": 0.789}}},
        {"mark": "rule", "encoding": {"y": {"datum": 0.8}, "x": {"datum": 0.8}, "x2": {"datum": 0.789}}},
        {"mark": "rule", "encoding": {"y": {"datum": 1}, "x": {"datum": 0.8}, "x2": {"datum": 0.789}}},
        {"mark": "rule", "encoding": {"y": {"datum": 0.05}, "x": {"datum": 0}, "x2": {"datum": 0.0055}}},
        {"mark": "rule", "encoding": {"y": {"datum": 0.1}, "x": {"datum": 0}, "x2": {"datum": 0.0055}}},
        {"mark": "rule", "encoding": {"y": {"datum": 0.15}, "x": {"datum": 0}, "x2": {"datum": 0.0055}}},
        {"mark": "rule", "encoding": {"y": {"datum": 0.25}, "x": {"datum": 0}, "x2": {"datum": 0.0055}}},
        {"mark": "rule", "encoding": {"y": {"datum": 0.3}, "x": {"datum": 0}, "x2": {"datum": 0.0055}}},
        {"mark": "rule", "encoding": {"y": {"datum": 0.35}, "x": {"datum": 0}, "x2": {"datum": 0.0055}}},
        {"mark": "rule", "encoding": {"y": {"datum": 0.45}, "x": {"datum": 0}, "x2": {"datum": 0.0055}}},
        {"mark": "rule", "encoding": {"y": {"datum": 0.5}, "x": {"datum": 0}, "x2": {"datum": 0.0055}}},
        {"mark": "rule", "encoding": {"y": {"datum": 0.55}, "x": {"datum": 0}, "x2": {"datum": 0.0055}}},
        {"mark": "rule", "encoding": {"y": {"datum": 0.65}, "x": {"datum": 0}, "x2": {"datum": 0.0055}}},
        {"mark": "rule", "encoding": {"y": {"datum": 0.7}, "x": {"datum": 0}, "x2": {"datum": 0.0055}}},
        {"mark": "rule", "encoding": {"y": {"datum": 0.75}, "x": {"datum": 0}, "x2": {"datum": 0.0055}}},
        {"mark": "rule", "encoding": {"y": {"datum": 0.85}, "x": {"datum": 0}, "x2": {"datum": 0.0055}}},
        {"mark": "rule", "encoding": {"y": {"datum": 0.9}, "x": {"datum": 0}, "x2": {"datum": 0.0055}}},
        {"mark": "rule", "encoding": {"y": {"datum": 0.95}, "x": {"datum": 0}, "x2": {"datum": 0.0055}}},
        {"mark": "rule", "encoding": {"y": {"datum": 1.05}, "x": {"datum": 0}, "x2": {"datum": 0.0055}}},
        {"mark": "rule", "encoding": {"y": {"datum": 1.1}, "x": {"datum": 0}, "x2": {"datum": 0.0055}}},
        {"mark": "rule", "encoding": {"y": {"datum": 1.15}, "x": {"datum": 0}, "x2": {"datum": 0.0055}}},
        {"mark": "rule", "encoding": {"y": {"datum": 0.05}, "x": {"datum": 0.8}, "x2": {"datum": 0.7945}}},
        {"mark": "rule", "encoding": {"y": {"datum": 0.1}, "x": {"datum": 0.8}, "x2": {"datum": 0.7945}}},
        {"mark": "rule", "encoding": {"y": {"datum": 0.15}, "x": {"datum": 0.8}, "x2": {"datum": 0.7945}}},
        {"mark": "rule", "encoding": {"y": {"datum": 0.25}, "x": {"datum": 0.8}, "x2": {"datum": 0.7945}}},
        {"mark": "rule", "encoding": {"y": {"datum": 0.3}, "x": {"datum": 0.8}, "x2": {"datum": 0.7945}}},
        {"mark": "rule", "encoding": {"y": {"datum": 0.35}, "x": {"datum": 0.8}, "x2": {"datum": 0.7945}}},
        {"mark": "rule", "encoding": {"y": {"datum": 0.45}, "x": {"datum": 0.8}, "x2": {"datum": 0.7945}}},
        {"mark": "rule", "encoding": {"y": {"datum": 0.5}, "x": {"datum": 0.8}, "x2": {"datum": 0.7945}}},
        {"mark": "rule", "encoding": {"y": {"datum": 0.55}, "x": {"datum": 0.8}, "x2": {"datum": 0.7945}}},
        {"mark": "rule", "encoding": {"y": {"datum": 0.65}, "x": {"datum": 0.8}, "x2": {"datum": 0.7945}}},
        {"mark": "rule", "encoding": {"y": {"datum": 0.7}, "x": {"datum": 0.8}, "x2": {"datum": 0.7945}}},
        {"mark": "rule", "encoding": {"y": {"datum": 0.75}, "x": {"datum": 0.8}, "x2": {"datum": 0.7945}}},
        {"mark": "rule", "encoding": {"y": {"datum": 0.85}, "x": {"datum": 0.8}, "x2": {"datum": 0.7945}}},
        {"mark": "rule", "encoding": {"y": {"datum": 0.9}, "x": {"datum": 0.8}, "x2": {"datum": 0.7945}}},
        {"mark": "rule", "encoding": {"y": {"datum": 0.95}, "x": {"datum": 0.8}, "x2": {"datum": 0.7945}}},
        {"mark": "rule", "encoding": {"y": {"datum": 1.05}, "x": {"datum": 0.8}, "x2": {"datum": 0.7945}}},
        {"mark": "rule", "encoding": {"y": {"datum": 1.1}, "x": {"datum": 0.8}, "x2": {"datum": 0.7945}}},
        {"mark": "rule", "encoding": {"y": {"datum": 1.15}, "x": {"datum": 0.8}, "x2": {"datum": 0.7945}}},
        {"mark": {"type": "text", "text": "b)", "font": "Lato", "fontWeight": "normal", "fontSize": 23, "align": "center", "baseline": "middle"},
          "encoding": {"x": {"datum": 0.071, "type": "quantitative"}, "y": {"datum": 0.835, "type": "quantitative"}}},

        {"mark": {"type": "rule", "color": "#0a72bd", "strokeWidth": 4.5},
          "encoding": {"x": {"datum": 0.408, "type": "quantitative"}, "x2": {"datum": 0.477}, "y": {"datum": 1.117, "type": "quantitative"}}},
        {"mark": {"type": "text", "text": "t", "font": "Liberation Serif", "fontSize": 31, "color": "#222222", "align": "left", "baseline": "alphabetic", "dy": 10},
          "encoding": {"x": {"datum": 0.48, "type": "quantitative"}, "y": {"datum": 1.117, "type": "quantitative"}}},
        {"mark": {"type": "text", "text": "TS", "font": "Liberation Serif", "fontSize": 23, "color": "#222222", "align": "left", "baseline": "alphabetic", "dy": 21},
          "encoding": {"x": {"datum": 0.49, "type": "quantitative"}, "y": {"datum": 1.117, "type": "quantitative"}}},
        {"mark": {"type": "text", "text": "= 0 ms (target)", "font": "Liberation Serif", "fontSize": 31, "color": "#222222", "align": "left", "baseline": "alphabetic", "dy": 10},
          "encoding": {"x": {"datum": 0.526, "type": "quantitative"}, "y": {"datum": 1.117, "type": "quantitative"}}},

        {"mark": {"type": "rule", "color": "#1f841f", "strokeWidth": 4.5, "strokeDash": [14, 8]},
          "encoding": {"x": {"datum": 0.408, "type": "quantitative"}, "x2": {"datum": 0.477}, "y": {"datum": 1.029, "type": "quantitative"}}},
        {"mark": {"type": "text", "text": "HPI2 (t = +0.32 ms)", "font": "Liberation Serif", "fontSize": 31, "color": "#222222", "align": "left", "baseline": "alphabetic", "dy": 10},
          "encoding": {"x": {"datum": 0.48, "type": "quantitative"}, "y": {"datum": 1.029, "type": "quantitative"}}},

        {"mark": {"type": "rule", "color": "#f7874f", "strokeWidth": 4.5},
          "encoding": {"x": {"datum": 0.408, "type": "quantitative"}, "x2": {"datum": 0.477}, "y": {"datum": 0.954, "type": "quantitative"}}},
        {"mark": {"type": "text", "text": "t", "font": "Liberation Serif", "fontSize": 31, "color": "#222222", "align": "left", "baseline": "alphabetic", "dy": 10},
          "encoding": {"x": {"datum": 0.48, "type": "quantitative"}, "y": {"datum": 0.954, "type": "quantitative"}}},
        {"mark": {"type": "text", "text": "TS", "font": "Liberation Serif", "fontSize": 23, "color": "#222222", "align": "left", "baseline": "alphabetic", "dy": 21},
          "encoding": {"x": {"datum": 0.49, "type": "quantitative"}, "y": {"datum": 0.954, "type": "quantitative"}}},
        {"mark": {"type": "text", "text": "= + 0.8 ms", "font": "Liberation Serif", "fontSize": 31, "color": "#222222", "align": "left", "baseline": "alphabetic", "dy": 10},
          "encoding": {"x": {"datum": 0.526, "type": "quantitative"}, "y": {"datum": 0.954, "type": "quantitative"}}}
      ]
    }
  ],
  "config": {
    "view": {"stroke": null},
    "rule": {"color": "black", "strokeWidth": 2.5},
    "axis": {"grid": false, "domain": false, "ticks": true, "labelFont": "Liberation Serif", "labelFontWeight": "bold", "labelColor": "black", "titleFont": "Liberation Serif", "titleFontWeight": "bold", "titleColor": "black", "tickColor": "black"},
    "text": {"font": "Liberation Serif", "fontWeight": "bold", "color": "black"}
  }
}
